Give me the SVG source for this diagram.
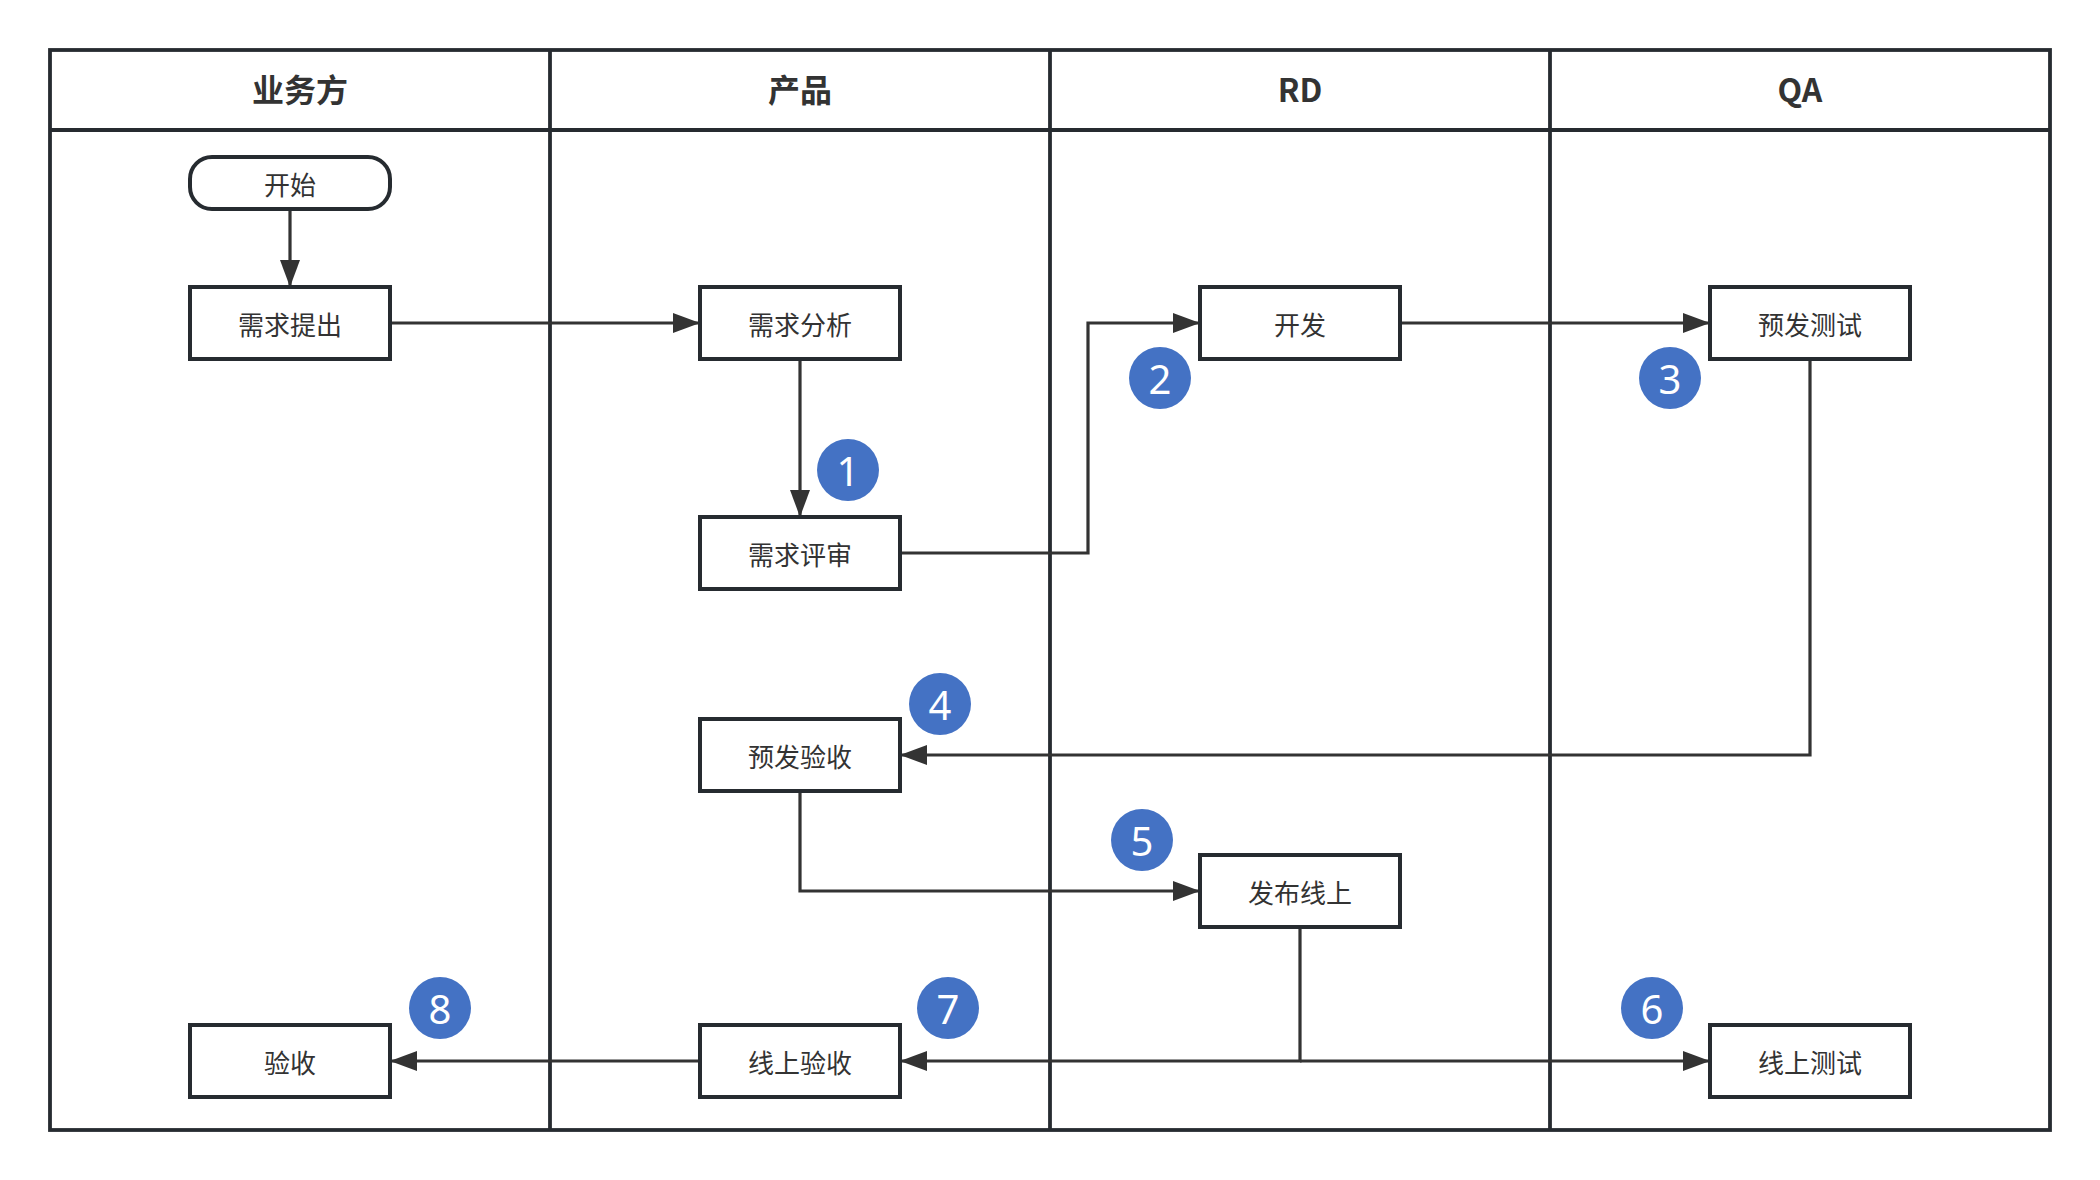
<svg xmlns="http://www.w3.org/2000/svg" width="2100" height="1180" viewBox="0 0 2100 1180">
<style>
.lane{fill:none;stroke:#262b30;stroke-width:3.8}
.box{fill:#fff;stroke:#262b30;stroke-width:4}
.hdr{font-family:"Noto Sans CJK SC","Noto Sans",sans-serif;font-size:32px;font-weight:bold;fill:#333;text-anchor:middle}
.lbl{font-family:"Noto Sans CJK SC","Noto Sans",sans-serif;font-size:26px;fill:#333;text-anchor:middle;dominant-baseline:central}
.edge{fill:none;stroke:#333;stroke-width:3.2}
.badge circle{fill:#4472C4}
.badge text{font-family:"Noto Sans","DejaVu Sans",sans-serif;font-size:40px;fill:#fff;text-anchor:middle;dominant-baseline:central}
</style>
<defs>
<marker id="arr" markerUnits="userSpaceOnUse" markerWidth="27" markerHeight="20" refX="27" refY="10" orient="auto">
<path d="M0,0 L27,10 L0,20 z" fill="#333"/>
</marker>
</defs>
<rect width="2100" height="1180" fill="#fff"/>
<g id="pool">
<rect class="lane" x="50" y="50" width="2000" height="1080"/>
<line class="lane" x1="50" y1="130" x2="2050" y2="130"/>
<line class="lane" x1="550" y1="50" x2="550" y2="1130"/>
<line class="lane" x1="1050" y1="50" x2="1050" y2="1130"/>
<line class="lane" x1="1550" y1="50" x2="1550" y2="1130"/>
<text class="hdr" x="300" y="102">业务方</text>
<text class="hdr" x="800" y="102">产品</text>
<text class="hdr" x="1300" y="102">RD</text>
<text class="hdr" x="1800" y="102">QA</text>
</g>
<g id="connectors">
<path class="edge" d="M290,209 V287" marker-end="url(#arr)"/>
<path class="edge" d="M390,323 H700" marker-end="url(#arr)"/>
<path class="edge" d="M800,359 V517" marker-end="url(#arr)"/>
<path class="edge" d="M900,553 H1088 V323 H1200" marker-end="url(#arr)"/>
<path class="edge" d="M1400,323 H1710" marker-end="url(#arr)"/>
<path class="edge" d="M1810,359 V755 H900" marker-end="url(#arr)"/>
<path class="edge" d="M800,791 V891 H1200" marker-end="url(#arr)"/>
<path class="edge" d="M1300,927 V1061 H900" marker-end="url(#arr)"/>
<path class="edge" d="M1300,1061 H1710" marker-end="url(#arr)"/>
<path class="edge" d="M700,1061 H390" marker-end="url(#arr)"/>
</g>
<g id="n-start"><rect class="box" x="190" y="157" width="200" height="52" rx="22"/><text class="lbl" x="290" y="183">开始</text></g>
<g id="n-req"><rect class="box" x="190" y="287" width="200" height="72"/><text class="lbl" x="290" y="323">需求提出</text></g>
<g id="n-analysis"><rect class="box" x="700" y="287" width="200" height="72"/><text class="lbl" x="800" y="323">需求分析</text></g>
<g id="n-review"><rect class="box" x="700" y="517" width="200" height="72"/><text class="lbl" x="800" y="553">需求评审</text></g>
<g id="n-dev"><rect class="box" x="1200" y="287" width="200" height="72"/><text class="lbl" x="1300" y="323">开发</text></g>
<g id="n-pretest"><rect class="box" x="1710" y="287" width="200" height="72"/><text class="lbl" x="1810" y="323">预发测试</text></g>
<g id="n-preaccept"><rect class="box" x="700" y="719" width="200" height="72"/><text class="lbl" x="800" y="755">预发验收</text></g>
<g id="n-release"><rect class="box" x="1200" y="855" width="200" height="72"/><text class="lbl" x="1300" y="891">发布线上</text></g>
<g id="n-onlinetest"><rect class="box" x="1710" y="1025" width="200" height="72"/><text class="lbl" x="1810" y="1061">线上测试</text></g>
<g id="n-onlineaccept"><rect class="box" x="700" y="1025" width="200" height="72"/><text class="lbl" x="800" y="1061">线上验收</text></g>
<g id="n-accept"><rect class="box" x="190" y="1025" width="200" height="72"/><text class="lbl" x="290" y="1061">验收</text></g>
<g id="badges">
<g class="badge" id="b1"><circle cx="848" cy="470" r="31"/><text x="848" y="470">1</text></g>
<g class="badge" id="b2"><circle cx="1160" cy="378" r="31"/><text x="1160" y="378">2</text></g>
<g class="badge" id="b3"><circle cx="1670" cy="378" r="31"/><text x="1670" y="378">3</text></g>
<g class="badge" id="b4"><circle cx="940" cy="704" r="31"/><text x="940" y="704">4</text></g>
<g class="badge" id="b5"><circle cx="1142" cy="840" r="31"/><text x="1142" y="840">5</text></g>
<g class="badge" id="b6"><circle cx="1652" cy="1008" r="31"/><text x="1652" y="1008">6</text></g>
<g class="badge" id="b7"><circle cx="948" cy="1008" r="31"/><text x="948" y="1008">7</text></g>
<g class="badge" id="b8"><circle cx="440" cy="1008" r="31"/><text x="440" y="1008">8</text></g>
</g>
</svg>
